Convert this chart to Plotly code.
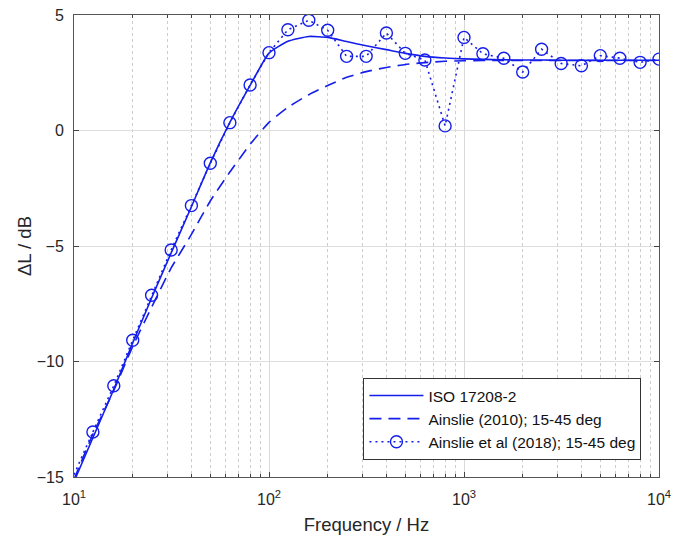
import plotly.graph_objects as go

# ---- data ----
freq_iso = [10, 12.5, 16, 20, 25, 31.5, 40, 50, 63, 80, 100, 125, 160, 200, 250, 315,
            400, 500, 630, 800, 1000, 1250, 1600, 2000, 2500, 3150, 4000, 5000, 6300, 8000, 10000]
iso_17208 = [-15.2, -13.3, -11.2, -9.2, -7.25, -5.3, -3.3, -1.4, 0.35, 1.95, 3.35, 3.86, 4.07, 4.03,
             3.85, 3.67, 3.5, 3.34, 3.21, 3.14, 3.1, 3.08, 3.06, 3.05, 3.05, 3.04, 3.04, 3.04, 3.04, 3.04, 3.04]

ainslie_2010 = [-15.1, -13.15, -11.25, -9.35, -7.65, -5.95, -4.5, -3.05, -1.8, -0.6, 0.35, 1.0, 1.55,
                1.95, 2.3, 2.55, 2.73, 2.86, 2.94, 3.0, 3.02, 3.03, 3.03, 3.03, 3.03, 3.03, 3.03, 3.03,
                3.03, 3.03, 3.03]

freq_2018 = [12.5, 16, 20, 25, 31.5, 40, 50, 63, 80, 100, 125, 160, 200, 250, 315, 400, 500,
             630, 800, 1000, 1250, 1600, 2000, 2500, 3150, 4000, 5000, 6300, 8000, 10000]
ainslie_2018 = [-13.05, -11.05, -9.08, -7.13, -5.17, -3.25, -1.42, 0.34, 1.97, 3.37, 4.36, 4.77,
                4.34, 3.21, 3.21, 4.22, 3.34, 3.05, 0.2, 4.03, 3.32, 3.13, 2.53, 3.52, 2.9, 2.8,
                3.24, 3.13, 2.95, 3.09]
# dotted lead-in of the 2018 curve below the first marker
freq_2018_lead = [10, 12.5]
ainslie_2018_lead = [-14.9, -13.05]

x_tickvals = [10, 100, 1000, 10000]
x_ticktext = ["10<sup>1</sup>", "10<sup>2</sup>", "10<sup>3</sup>", "10<sup>4</sup>"]
y_tickvals = [-15, -10, -5, 0, 5]

blue = "rgb(20,30,235)"
font_family = "Liberation Sans, Arial, sans-serif"
text_col = "#262626"

fig = go.Figure()
fig.add_trace(go.Scatter(x=freq_iso, y=iso_17208, mode="lines", name="ISO 17208-2",
                         line=dict(color=blue, width=1.6, shape="spline", smoothing=0.5)))
fig.add_trace(go.Scatter(x=freq_iso, y=ainslie_2010, mode="lines", name="Ainslie (2010); 15-45 deg",
                         line=dict(color=blue, width=1.6, dash="12px,7px", shape="spline", smoothing=0.5)))
fig.add_trace(go.Scatter(x=freq_2018_lead, y=ainslie_2018_lead, mode="lines", showlegend=False,
                         line=dict(color=blue, width=1.6, dash="2px,4px")))
fig.add_trace(go.Scatter(x=freq_2018, y=ainslie_2018, mode="lines+markers",
                         name="Ainslie et al (2018); 15-45 deg",
                         line=dict(color=blue, width=1.6, dash="2px,4px"),
                         marker=dict(symbol="circle-open", size=12, color=blue,
                                     line=dict(color=blue, width=1.4))))

axis_common = dict(showline=True, linecolor="#555555", linewidth=1, mirror="allticks",
                   ticks="inside", ticklen=5, tickcolor="#444444", zeroline=False,
                   tickfont=dict(family=font_family, size=16, color=text_col))

fig.update_xaxes(type="log", range=[1, 4], tickvals=x_tickvals, ticktext=x_ticktext,
                 showgrid=True, gridcolor="#d9d9d9", gridwidth=1,
                 minor=dict(dtick="D1", showgrid=True, gridcolor="#cccccc", griddash="dot",
                            ticks="inside", ticklen=3, tickcolor="#444444"),
                 ticklabelstandoff=8,
                 title=dict(text="Frequency / Hz", standoff=10,
                            font=dict(family=font_family, size=18.5, color=text_col)),
                 **axis_common)
fig.update_yaxes(range=[-15, 5], tickvals=y_tickvals, showgrid=True, gridcolor="#dedede",
                 ticklabelstandoff=6,
                 title=dict(text="ΔL / dB", standoff=0,
                            font=dict(family=font_family, size=18.5, color=text_col)),
                 **axis_common)

fig.update_layout(width=688, height=538, margin=dict(l=74, r=29, t=15, b=61, autoexpand=False),
                  plot_bgcolor="white", paper_bgcolor="white",
                  legend=dict(x=0.97, xanchor="right", y=0.037, yanchor="bottom",
                              bgcolor="white", bordercolor="#333333", borderwidth=1,
                              font=dict(family=font_family, size=15.5, color="#111"),
                              itemwidth=54, tracegroupgap=0),
                  showlegend=True)

fig.write_html("out.html", config={"displayModeBar": False},
               post_script="document.body.style.margin='0px';")
